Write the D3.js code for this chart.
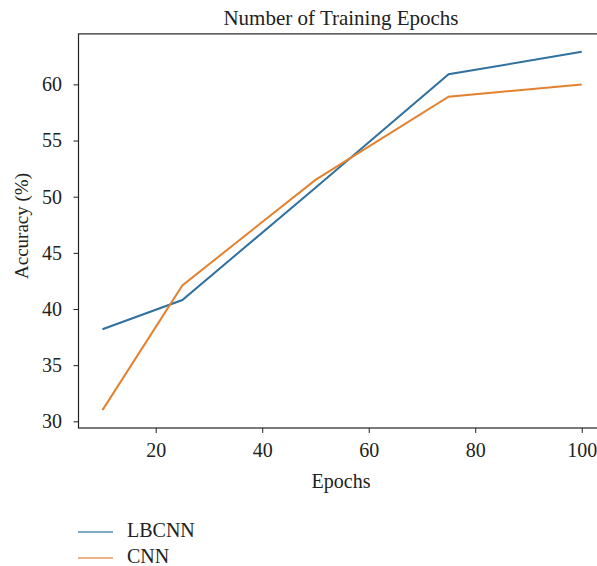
<!DOCTYPE html>
<html>
<head>
<meta charset="utf-8">
<script src="https://cdn.jsdelivr.net/npm/d3@7"></script>
<style>
	body { margin: 0; background: #fff; }
	svg { display: block; font-family: "Liberation Serif", "DejaVu Serif", serif; }
</style>
</head>
<body>
<script>
// Data
const epochs = [10, 25, 50, 75, 100];
const lbcnn = [38.2, 40.8, 50.8, 60.9, 62.9];
const cnn = [31.0, 42.1, 51.5, 58.9, 60.0];
const seriesNames = ["LBCNN", "CNN"];
const xTicks = [20, 40, 60, 80, 100];
const yTicks = [30, 35, 40, 45, 50, 55, 60];

const w = 597;
const h = 566;
const plotLeft = 78.5, plotRight = 605.7, plotTop = 33.9, plotBottom = 428;
const colors = ["#30719f", "#e3812f"];
const ink = "#222";

const svg = d3.select("body").append("svg").attr("width", w).attr("height", h);

const xScale = d3.scaleLinear().domain([5.5, 104.5]).range([plotLeft, plotRight]);
const yScale = d3.scaleLinear().domain([29.405, 64.495]).range([plotBottom, plotTop]);

// Title
svg.append("text")
	.attr("x", 341)
	.attr("y", 25)
	.attr("text-anchor", "middle")
	.attr("font-size", 21)
	.attr("fill", ink)
	.text("Number of Training Epochs");

// Axes
const xAxis = d3.axisBottom(xScale).tickValues(xTicks).tickSize(5).tickPadding(9.5);
const gx = svg.append("g").attr("transform", `translate(0, ${plotBottom})`).call(xAxis);

const yAxis = d3.axisLeft(yScale).tickValues(yTicks).tickSize(5).tickPadding(11.5);
const gy = svg.append("g").attr("transform", `translate(${plotLeft}, 0)`).call(yAxis);

[gx, gy].forEach((g) => {
	g.select(".domain").remove();
	g.selectAll("text").attr("font-size", 20).attr("fill", ink).attr("font-family", "Liberation Serif, serif");
	g.selectAll("line").attr("stroke", ink);
});

// Frame
svg.append("rect")
	.attr("x", plotLeft)
	.attr("y", plotTop)
	.attr("width", plotRight - plotLeft)
	.attr("height", plotBottom - plotTop)
	.attr("fill", "none")
	.attr("stroke", ink)
	.attr("stroke-width", 1.2);

// Axis labels
svg.append("text")
	.attr("x", 341)
	.attr("y", 488)
	.attr("text-anchor", "middle")
	.attr("font-size", 20)
	.attr("fill", ink)
	.text("Epochs");

svg.append("text")
	.attr("transform", "rotate(-90)")
	.attr("x", -226)
	.attr("y", 28)
	.attr("text-anchor", "middle")
	.attr("font-size", 19)
	.attr("fill", ink)
	.text("Accuracy (%)");

// Lines
const line = d3.line()
	.x((d) => xScale(d[0]))
	.y((d) => yScale(d[1]));

[lbcnn, cnn].forEach((vals, i) => {
	svg.append("path")
		.datum(epochs.map((e, j) => [e, vals[j]]))
		.attr("d", line)
		.attr("fill", "none")
		.attr("stroke", colors[i])
		.attr("stroke-width", 2);
});

// Legend
const legend = svg.append("g");
seriesNames.forEach((name, i) => {
	const ly = 532 + i * 26;
	legend.append("line")
		.attr("x1", 78).attr("x2", 113)
		.attr("y1", ly).attr("y2", ly)
		.attr("stroke", colors[i])
		.attr("stroke-width", 1.5)
		.attr("opacity", 0.8);
	legend.append("text")
		.attr("x", 127)
		.attr("y", ly + 5)
		.attr("font-size", 20)
		.attr("fill", ink)
		.text(name);
});
</script>
</body>
</html>
